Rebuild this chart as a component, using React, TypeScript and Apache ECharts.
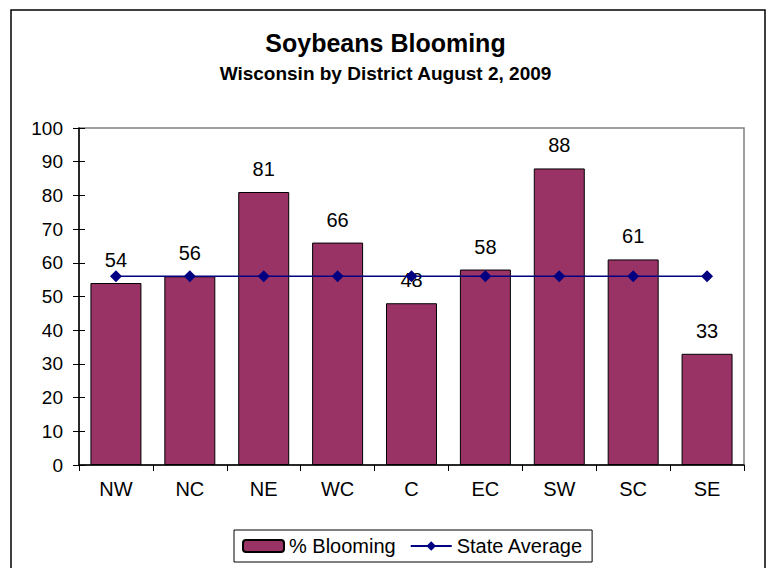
import React, { useEffect, useRef } from "react";
import * as echarts from "echarts";

const categories = ["NW", "NC", "NE", "WC", "C", "EC", "SW", "SC", "SE"];
const blooming = [54, 56, 81, 66, 48, 58, 88, 61, 33];
const stateAverage = [56, 56, 56, 56, 56, 56, 56, 56, 56];

const FONT = "'Liberation Sans', Arial, sans-serif";

export default function App() {
  const ref = useRef<HTMLDivElement>(null);
  useEffect(() => {
    if (!ref.current) return;
    const chart = echarts.init(ref.current, undefined, { renderer: "svg" });
    chart.setOption({
      animation: false,
      backgroundColor: "#fff",
      textStyle: { fontFamily: FONT },
      title: [
        {
          text: "Soybeans Blooming",
          left: "center",
          top: 30,
          padding: 0,
          textStyle: { fontSize: 25, fontWeight: "bold", color: "#000", fontFamily: FONT },
        },
        {
          text: "Wisconsin by District August 2, 2009",
          left: "center",
          top: 64,
          padding: 0,
          textStyle: { fontSize: 19, fontWeight: "bold", color: "#000", fontFamily: FONT },
        },
      ],
      graphic: [
        {
          type: "rect",
          shape: { x: 11, y: 10, width: 754, height: 570 },
          style: { fill: "none", stroke: "#000", lineWidth: 1.5 },
          silent: true,
          z: 100,
        },
      ],
      legend: {
        left: 234,
        top: 530,
        padding: [6, 9, 6, 8],
        itemGap: 14,
        itemWidth: 41,
        itemHeight: 12,
        borderColor: "#000",
        borderWidth: 1,
        textStyle: { fontSize: 20, color: "#000", fontFamily: FONT },
        data: ["% Blooming", "State Average"],
      },
      grid: {
        left: 79,
        right: 27,
        top: 128,
        bottom: 103,
        show: true,
        borderColor: "#808080",
        borderWidth: 1.5,
      },
      xAxis: {
        type: "category",
        data: categories,
        axisLine: { lineStyle: { color: "#000", width: 1.5 } },
        axisTick: { show: true, length: 6, lineStyle: { color: "#000" } },
        axisLabel: { fontSize: 20, color: "#000", margin: 14, fontFamily: FONT },
      },
      yAxis: [
        {
          type: "value",
          min: 0,
          max: 100,
          interval: 10,
          axisLine: { show: true, lineStyle: { color: "#000", width: 1.5 } },
          axisTick: { show: true, length: 6, lineStyle: { color: "#000" } },
          axisLabel: { fontSize: 19, color: "#000", margin: 16, fontFamily: FONT },
          splitLine: { show: false },
        },
        {
          type: "value",
          position: "left",
          min: 0,
          max: 100,
          interval: 10,
          axisLine: { show: false },
          axisTick: { show: true, inside: true, length: 6, lineStyle: { color: "#000" } },
          axisLabel: { show: false },
          splitLine: { show: false },
        },
      ],
      series: [
        {
          name: "% Blooming",
          type: "bar",
          data: blooming,
          barCategoryGap: "31%",
          itemStyle: { color: "#993366", borderColor: "#000", borderWidth: 1 },
          label: {
            show: true,
            position: "top",
            distance: 13,
            fontSize: 20,
            color: "#000",
            fontFamily: FONT,
          },
        },
        {
          name: "State Average",
          type: "line",
          data: stateAverage,
          symbol: "diamond",
          symbolSize: 12,
          itemStyle: { color: "#000080" },
          lineStyle: { color: "#000080", width: 1.5 },
        },
      ],
    });
    return () => chart.dispose();
  }, []);
  return (
    <div
      ref={ref}
      style={{ position: "fixed", left: 0, top: 0, width: 771, height: 568 }}
    />
  );
}
